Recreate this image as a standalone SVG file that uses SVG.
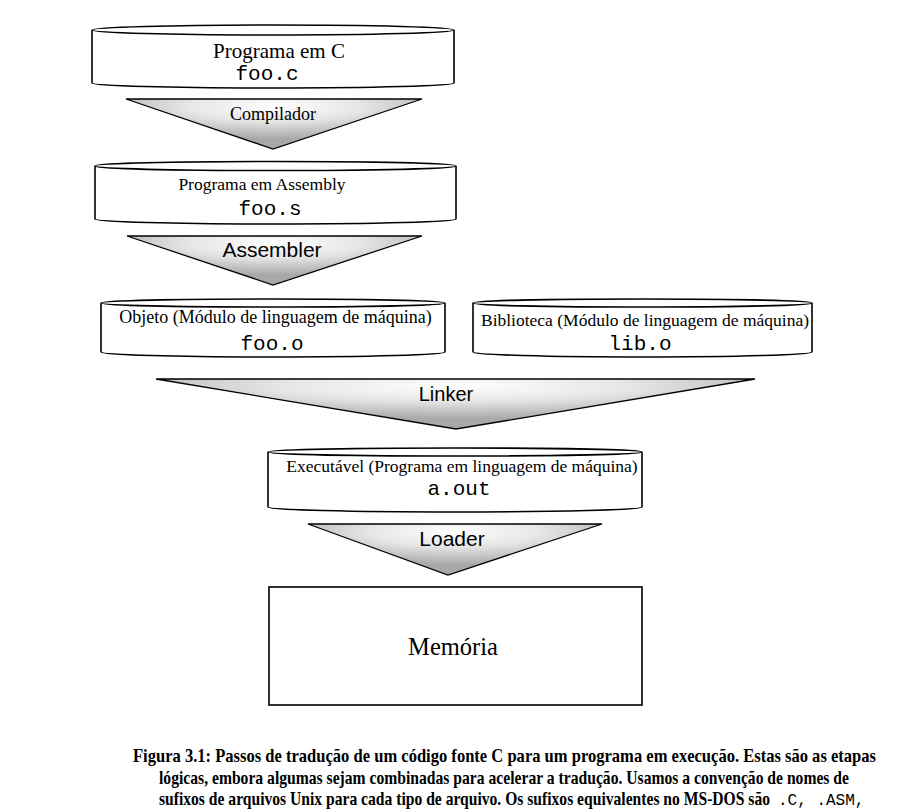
<svg xmlns="http://www.w3.org/2000/svg" width="905" height="809" viewBox="0 0 905 809">
<style>
.cyl{fill:#fff;stroke:#000;stroke-width:1.6}
.arr{stroke:#000;stroke-width:1.3;stroke-linejoin:miter}
.serif{font-family:"Liberation Serif","Times New Roman",serif;fill:#000;text-anchor:middle}
.mono{font-family:"Liberation Mono","Courier New",monospace;fill:#000;text-anchor:middle;font-size:21px}
.sans{font-family:"Liberation Sans",Arial,sans-serif;fill:#000;text-anchor:middle}
.cap{font-family:"Liberation Serif","Times New Roman",serif;font-weight:bold;font-size:15.6px;fill:#000}
.capm{font-family:"Liberation Mono","Courier New",monospace;font-size:16px;fill:#000}
</style>
<defs>
<radialGradient id="g" cx="50%" cy="15%" r="65%">
<stop offset="0" stop-color="#ffffff"/>
<stop offset="0.45" stop-color="#e6e6e6"/>
<stop offset="1" stop-color="#a8a8a8"/>
</radialGradient>
</defs>
<rect width="905" height="809" fill="#fff"/>

<g id="prog-c">
<path class="cyl" d="M92,30 L92,83 A181,5 0 0 0 454,83 L454,30"/>
<ellipse class="cyl" cx="273" cy="30" rx="181" ry="5"/>
<text class="serif" x="279" y="58" font-size="21">Programa em C</text>
<text class="mono" x="267" y="80">foo.c</text>
</g>

<g id="prog-asm">
<path class="cyl" d="M95,166 L95,219 A180.5,5 0 0 0 456,219 L456,166"/>
<ellipse class="cyl" cx="275.5" cy="166" rx="180.5" ry="4.5"/>
<text class="serif" x="262" y="190" font-size="17.5">Programa em Assembly</text>
<text class="mono" x="270" y="215">foo.s</text>
</g>

<g id="objeto">
<path class="cyl" d="M101,303 L101,352 A172,5 0 0 0 445,352 L445,303"/>
<ellipse class="cyl" cx="273" cy="303" rx="172" ry="4"/>
<text class="serif" x="275.5" y="323" font-size="18">Objeto (Módulo de linguagem de máquina)</text>
<text class="mono" x="272" y="350">foo.o</text>
</g>

<g id="biblioteca">
<path class="cyl" d="M473,303 L473,352 A169.5,5 0 0 0 812,352 L812,303"/>
<ellipse class="cyl" cx="642.5" cy="303" rx="169.5" ry="4"/>
<text class="serif" x="645" y="326" font-size="17.5">Biblioteca (Módulo de linguagem de máquina)</text>
<text class="mono" x="640" y="350">lib.o</text>
</g>

<g id="executavel">
<path class="cyl" d="M268,452 L268,507 A187,5 0 0 0 642,507 L642,452"/>
<ellipse class="cyl" cx="455" cy="452" rx="187" ry="4"/>
<text class="serif" x="462" y="472" font-size="17.5">Executável (Programa em linguagem de máquina)</text>
<text class="mono" x="459" y="495">a.out</text>
</g>

<g id="memoria">
<rect x="269" y="587" width="373" height="118" fill="#fff" stroke="#000" stroke-width="1.6"/>
<text class="serif" x="453" y="655" font-size="24.5">Memória</text>
</g>

<g id="connectors">
<g id="compilador">
<polygon class="arr" fill="url(#g)" points="126,99 422,99 273,149"/>
<text class="serif" x="273" y="120" font-size="18">Compilador</text>
</g>
<g id="assembler">
<polygon class="arr" fill="url(#g)" points="127,236 422,236 273,285"/>
<text class="sans" x="272" y="257" font-size="21">Assembler</text>
</g>
<g id="linker">
<polygon class="arr" fill="url(#g)" points="156,379 755,379 456,429"/>
<text class="sans" x="446" y="401" font-size="20">Linker</text>
</g>
<g id="loader">
<polygon class="arr" fill="url(#g)" points="308,524 602,524 448,575"/>
<text class="sans" x="452" y="546" font-size="21">Loader</text>
</g>
</g>

<g id="caption">
<g transform="scale(1,1.22)">
<text class="cap" x="133" y="624.6" textLength="743" lengthAdjust="spacingAndGlyphs">Figura 3.1: Passos de tradução de um código fonte C para um programa em execução. Estas são as etapas</text>
<text class="cap" x="159" y="642.6" textLength="690" lengthAdjust="spacingAndGlyphs">lógicas, embora algumas sejam combinadas para acelerar a tradução. Usamos a convenção de nomes de</text>
<text class="cap" x="159" y="659.8" textLength="611" lengthAdjust="spacingAndGlyphs">sufixos de arquivos Unix para cada tipo de arquivo. Os sufixos equivalentes no MS-DOS são</text>
</g>
<text class="capm" x="778" y="805">.C, .ASM,</text>
</g>
</svg>
